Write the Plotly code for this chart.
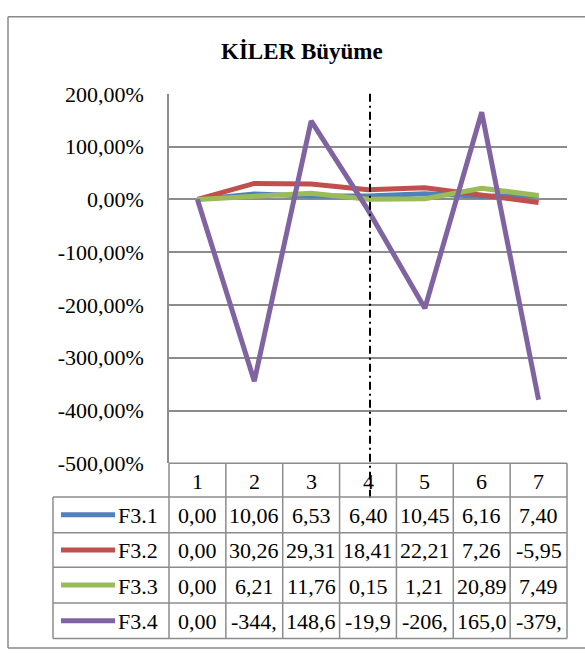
import plotly.graph_objects as go

# ---- data -------------------------------------------------------------
periods = [1, 2, 3, 4, 5, 6, 7]
series_names = ["F3.1", "F3.2", "F3.3", "F3.4"]
f31 = [0.00, 10.06, 6.53, 6.40, 10.45, 6.16, 7.40]
f32 = [0.00, 30.26, 29.31, 18.41, 22.21, 7.26, -5.95]
f33 = [0.00, 6.21, 11.76, 0.15, 1.21, 20.89, 7.49]
f34 = [0.00, -344.35, 148.62, -19.94, -206.23, 165.04, -379.48]
series_values = [f31, f32, f33, f34]
series_colors = ["#4F81BD", "#C0504D", "#9BBB59", "#8064A2"]
y_ticks = [200, 100, 0, -100, -200, -300, -400, -500]
marker_period = 4  # dash-dot separator

W, H = 585, 664
FONT = "Liberation Serif"
GRID = "#8c8c8c"

# plot area in pixels
PX0, PX1 = 169, 567
PY0, PY1 = 85, 469
n = len(periods)
col_w = (PX1 - PX0) / n


def px(x):
    return x / W


def py(y):
    return 1 - y / H


def period_px(p):
    return PX0 + (p - periods[0] + 0.5) * col_w


def hline(y, x0, x1, line):
    return dict(type="line", xref="paper", yref="paper",
                x0=px(x0), x1=px(x1), y0=py(y), y1=py(y), line=line)


def vline(x, y0, y1, line):
    return dict(type="line", xref="paper", yref="paper",
                x0=px(x), x1=px(x), y0=py(y0), y1=py(y1), line=line)


fig = go.Figure()
for name, vals, col in zip(series_names, series_values, series_colors):
    fig.add_trace(go.Scatter(
        x=periods, y=vals, name=name, mode="lines",
        line=dict(color=col, width=5), showlegend=False,
    ))

shapes = []
annotations = []

# outer chart border (its right edge runs off the canvas)
bline = dict(color="#8a8a8a", width=1.5)
shapes.append(hline(5, 8, W, bline))
shapes.append(hline(661, 8, W, bline))
shapes.append(vline(8, 5, 661, bline))

# vertical dash-dot separator
sep_x = period_px(marker_period) + 2
shapes.append(vline(sep_x, PY0, 507, dict(color="black", width=2, dash="8px,4px,2px,4px")))

# data table below the plot
row_edges = [469, 504, 541, 577, 614, 651]
LEG_X0 = 53
tline = dict(color=GRID, width=1.5)
shapes.append(hline(row_edges[0], PX0, PX1, tline))
for ry in row_edges[1:]:
    shapes.append(hline(ry, LEG_X0, PX1, tline))
shapes.append(vline(LEG_X0, row_edges[1], row_edges[-1], tline))
for k in range(n + 1):
    shapes.append(vline(PX0 + k * col_w, row_edges[0], row_edges[-1], tline))

tfont = dict(family=FONT, size=22, color="black")
head_y = (row_edges[0] + row_edges[1]) / 2
for p in periods:
    annotations.append(dict(x=px(period_px(p)), y=py(head_y + 1), xref="paper", yref="paper",
                            text=str(p), showarrow=False, font=tfont,
                            xanchor="center", yanchor="middle"))


def cell_text(v):
    return f"{v:.2f}".replace(".", ",")[:5]


for i, (name, vals, col) in enumerate(zip(series_names, series_values, series_colors)):
    cy = (row_edges[i + 1] + row_edges[i + 2]) / 2 + 1
    shapes.append(hline(cy - 1, 61, 115, dict(color=col, width=5)))
    annotations.append(dict(x=px(160), y=py(cy), xref="paper", yref="paper",
                            text=name, showarrow=False, font=tfont,
                            xanchor="right", yanchor="middle"))
    for p, v in zip(periods, vals):
        annotations.append(dict(x=px(period_px(p)), y=py(cy), xref="paper", yref="paper",
                                text=cell_text(v), showarrow=False, font=tfont,
                                xanchor="center", yanchor="middle"))

# title
annotations.append(dict(x=px(302), y=py(41), xref="paper", yref="paper",
                        text="<b>KİLER Büyüme</b>", showarrow=False,
                        font=dict(family=FONT, size=23, color="black"),
                        xanchor="center", yanchor="middle"))

fig.update_layout(
    width=W, height=H,
    margin=dict(l=0, r=0, t=0, b=0),
    paper_bgcolor="white", plot_bgcolor="white",
    separators=",.",
    shapes=shapes, annotations=annotations,
    xaxis=dict(domain=[px(PX0), px(PX1)], range=[periods[0] - 0.5, periods[-1] + 0.5],
               showgrid=False, zeroline=False, showticklabels=False, ticks="",
               showline=False, fixedrange=True),
    yaxis=dict(domain=[py(PY1), py(PY0)], range=[-500, 200],
               tickvals=y_ticks, ticktext=[f"{t:.2f}".replace(".", ",") + "%" for t in y_ticks],
               showgrid=True, gridcolor=GRID, gridwidth=1.5, zeroline=False,
               showline=True, linecolor=GRID, linewidth=1.5,
               ticks="", ticklabelstandoff=19,
               tickfont=dict(family=FONT, size=22, color="black"), fixedrange=True),
)

fig.write_html("out.html")
